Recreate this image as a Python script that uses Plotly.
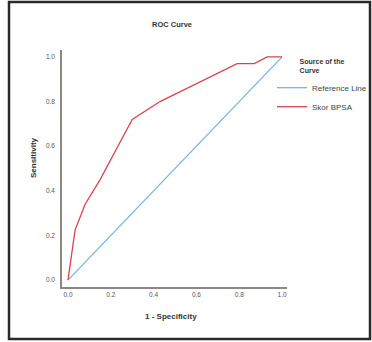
import plotly.graph_objects as go

# Data
ref_x = [0.0, 1.0]
ref_y = [0.0, 1.0]
roc_x = [0.0, 0.033, 0.08, 0.15, 0.25, 0.30, 0.43, 0.60, 0.79, 0.87, 0.93, 1.0]
roc_y = [0.0, 0.224, 0.34, 0.45, 0.63, 0.72, 0.80, 0.88, 0.97, 0.97, 1.0, 1.0]
tick_vals = [0.0, 0.2, 0.4, 0.6, 0.8, 1.0]
tick_text = ["0.0", "0.2", "0.4", "0.6", "0.8", "1.0"]

W, H = 372, 342
# target plot area in page pixels
PL, PR, PT, PB = 62, 287, 50, 287
L, T = PL, PT
R, B = W - PR, H - PB
pw, ph = W - L - R, H - T - B

def px(x):
    return (x - L) / pw

def py(y):
    return (H - B - y) / ph

font = "Liberation Sans, Arial, sans-serif"

fig = go.Figure()
fig.add_trace(go.Scatter(x=ref_x, y=ref_y, mode="lines", name="Reference Line",
                         line=dict(color="#74b6e2", width=1.3)))
fig.add_trace(go.Scatter(x=roc_x, y=roc_y, mode="lines", name="Skor BPSA",
                         line=dict(color="#d9434f", width=1.3)))

axis_common = dict(showgrid=False, zeroline=False, showline=True, linecolor="#8c8783",
                   linewidth=1.5, ticks="", tickvals=tick_vals, ticktext=tick_text,
                   tickfont=dict(size=6.5, color="#555555", family=font))
fig.update_xaxes(range=[-0.028, 1.023], **axis_common)
fig.update_yaxes(range=[-0.031, 1.031], ticklabelstandoff=4, **axis_common)

fig.update_layout(
    width=W, height=H,
    margin=dict(l=L, r=R, t=T, b=B, pad=0, autoexpand=False),
    paper_bgcolor="white", plot_bgcolor="white",
    font=dict(family=font, color="#333333"),
    legend=dict(
        title=dict(text="<b>Source of the<br>Curve</b>", side="top center",
                   font=dict(size=7, color="#333333")),
        x=px(272), y=py(55), xanchor="left", yanchor="top",
        font=dict(size=8, color="#444444"),
        itemwidth=30, tracegroupgap=0,
        bgcolor="rgba(0,0,0,0)",
    ),
    showlegend=True,
)

ann = dict(xref="paper", yref="paper", showarrow=False, xanchor="center", yanchor="middle")
fig.add_annotation(text="<b>ROC Curve</b>", x=px(172), y=py(25),
                   font=dict(size=7.5, color="#333333", family=font), **ann)
fig.add_annotation(text="<b>1 - Specificity</b>", x=px(171), y=py(316),
                   font=dict(size=8, color="#333333", family=font), **ann)
fig.add_annotation(text="<b>Sensitivity</b>", x=px(33), y=py(158), textangle=-90,
                   font=dict(size=8, color="#333333", family=font), **ann)

fig.add_shape(type="rect", xref="paper", yref="paper",
              x0=px(9), x1=px(370), y0=py(339), y1=py(2),
              line=dict(color="#2a2a2a", width=2.5), layer="above")

fig.write_html(
    "out.html",
    config={"displayModeBar": False},
    post_script="document.body.style.margin='0';document.body.style.overflow='hidden';",
)
